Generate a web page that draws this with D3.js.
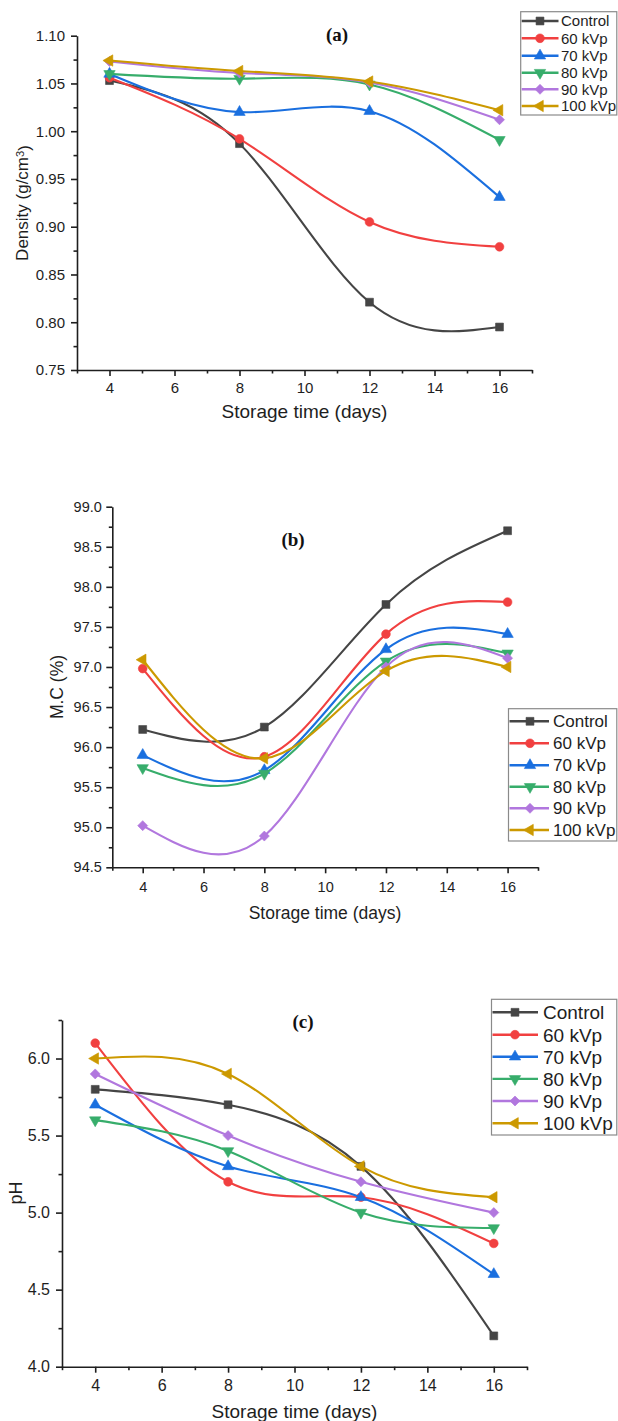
<!DOCTYPE html>
<html>
<head>
<meta charset="utf-8">
<script src="https://cdn.jsdelivr.net/npm/d3@7"></script>
<style>
  html, body { margin: 0; padding: 0; background: #fff; }
  svg { display: block; }
</style>
</head>
<body>
<svg id="chart" width="618" height="1421"></svg>
<script>
// Storage time (days) at which each sample was measured
const days = [4, 8, 12, 16];
const seriesNames = ["Control", "60 kVp", "70 kVp", "80 kVp", "90 kVp", "100 kVp"];
const seriesColors = ["#454545", "#F14040", "#1A6FDF", "#37AD6B", "#B177DE", "#CC9900"];

// (a) Density, g/cm3 — one row per series, one value per day
const densityValues = [
  [1.053, 0.987, 0.821, 0.795],
  [1.056, 0.992, 0.905, 0.879],
  [1.060, 1.020, 1.021, 0.931],
  [1.060, 1.055, 1.049, 0.991],
  [1.073, 1.061, 1.051, 1.012],
  [1.074, 1.063, 1.052, 1.022]
];

// (b) Moisture content, %
const moistureValues = [
  [96.22, 96.25, 97.78, 98.70],
  [96.98, 95.88, 97.41, 97.81],
  [95.90, 95.71, 97.22, 97.41],
  [95.74, 95.67, 97.07, 97.17],
  [95.02, 94.89, 97.00, 97.11],
  [97.09, 95.86, 96.95, 97.00]
];

// (c) pH
const phValues = [
  [5.8, 5.7, 5.3, 4.2],
  [6.1, 5.2, 5.1, 4.8],
  [5.7, 5.3, 5.1, 4.6],
  [5.6, 5.4, 5.0, 4.9],
  [5.9, 5.5, 5.2, 5.0],
  [6.0, 5.9, 5.3, 5.1]
];

// Tick labels
const dayTicks = [4, 6, 8, 10, 12, 14, 16];
const dayMinorTicks = [3, 5, 7, 9, 11, 13, 15, 17];
const densityTicks = [0.75, 0.80, 0.85, 0.90, 0.95, 1.00, 1.05, 1.10];
const densityMinorTicks = [0.775, 0.825, 0.875, 0.925, 0.975, 1.025, 1.075];
const moistureTicks = [94.5, 95.0, 95.5, 96.0, 96.5, 97.0, 97.5, 98.0, 98.5, 99.0];
const moistureMinorTicks = [94.75, 95.25, 95.75, 96.25, 96.75, 97.25, 97.75, 98.25, 98.75];
const phTicks = [4.0, 4.5, 5.0, 5.5, 6.0];
const phMinorTicks = [4.25, 4.75, 5.25, 5.75, 6.25];

const SANS = "'Liberation Sans', Arial, Helvetica, sans-serif";
const SERIF = "'Liberation Serif', 'Times New Roman', serif";
const INK = "#1e1e1e";

// Marker shapes: square, circle, up/down triangles, diamond, left triangle
const markers = [
  { type: d3.symbolSquare,   size: 62, rotate: 0 },
  { type: d3.symbolCircle,   size: 60, rotate: 0 },
  { type: d3.symbolTriangle, size: 56, rotate: 0 },
  { type: d3.symbolTriangle, size: 56, rotate: 180 },
  { type: d3.symbolSquare,   size: 50, rotate: 45 },
  { type: d3.symbolTriangle, size: 56, rotate: -90 }
];

const panels = [
  {
    values: densityValues, label: "(a)",
    yDomain: [0.75, 1.10], yTicks: densityTicks, yMinor: densityMinorTicks, yFormat: d3.format(".2f"),
    xRange: [77, 532], yRange: [370, 35.7],
    tickFont: 15, yPad: 6, xLabelY: 23,
    xTitle: { x: 304.5, y: 418, size: 19 },
    yTitle: { x: 22, y: 203, size: 17, sup: true, text: "Density (g/cm" },
    title: { x: 337, y: 41 },
    legend: { x0: 520.7, y0: 11.7, x1: 616.8, y1: 115, rows: [21, 38.3, 55.7, 72.7, 89.3, 106], lineEnd: 558.5, mark: 540, textX: 561, size: 15 }
  },
  {
    values: moistureValues, label: "(b)",
    yDomain: [94.5, 99.0], yTicks: moistureTicks, yMinor: moistureMinorTicks, yFormat: d3.format(".1f"),
    xRange: [112.3, 538], yRange: [867.3, 506.7],
    tickFont: 14.5, yPad: 4.5, xLabelY: 25,
    xTitle: { x: 325, y: 919, size: 17.5 },
    yTitle: { x: 57, y: 687, size: 17.5, sup: false, text: "M.C (%)" },
    title: { x: 293, y: 546 },
    legend: { x0: 508.5, y0: 708.7, x1: 616.8, y1: 841, rows: [721.3, 743.3, 765.3, 786.8, 808.3, 830], lineEnd: 549, mark: 530, textX: 553, size: 17 }
  },
  {
    values: phValues, label: "(c)",
    yDomain: [4.0, 6.25], yTicks: phTicks, yMinor: phMinorTicks, yFormat: d3.format(".1f"),
    xRange: [62, 527], yRange: [1366.7, 1020],
    tickFont: 16, yPad: 6, xLabelY: 24.5,
    xTitle: { x: 294.5, y: 1418, size: 19 },
    yTitle: { x: 16, y: 1193, size: 18, sup: false, text: "pH" },
    title: { x: 303, y: 1028 },
    legend: { x0: 491.5, y0: 999.3, x1: 616.8, y1: 1135, rows: [1012.3, 1034.7, 1056.7, 1078.9, 1101, 1123.3], lineEnd: 538, mark: 515, textX: 543, size: 19 }
  }
];

const svg = d3.select("#chart");

function drawMarker(g, i, cx, cy) {
  const m = markers[i];
  g.append("path")
    .attr("d", d3.symbol().type(m.type).size(m.size)())
    .attr("transform", `translate(${cx},${cy}) rotate(${m.rotate})`)
    .attr("fill", seriesColors[i])
    .attr("stroke", seriesColors[i])
    .attr("stroke-width", 0.6);
}

panels.forEach(p => {
  const g = svg.append("g");
  const x = d3.scaleLinear().domain([3, 17]).range(p.xRange);
  const y = d3.scaleLinear().domain(p.yDomain).range(p.yRange);
  const x0 = p.xRange[0], yBase = p.yRange[0];

  // Bottom axis: labelled majors and short minors
  const xAxis = g.append("g").attr("transform", `translate(0,${yBase})`)
    .call(d3.axisBottom(x).tickValues(dayTicks).tickSize(6).tickSizeOuter(0));
  xAxis.selectAll("text")
    .attr("y", p.xLabelY).attr("dy", null)
    .style("font", `${p.tickFont}px ${SANS}`).attr("fill", INK);
  g.append("g").attr("transform", `translate(0,${yBase})`)
    .call(d3.axisBottom(x).tickValues(dayMinorTicks).tickSize(3.5).tickFormat(""))
    .call(s => s.select(".domain").remove());

  // Left axis
  const yAxis = g.append("g").attr("transform", `translate(${x0},0)`)
    .call(d3.axisLeft(y).tickValues(p.yTicks).tickFormat(p.yFormat).tickSize(6).tickSizeOuter(0).tickPadding(p.yPad));
  yAxis.selectAll("text")
    .style("font", `${p.tickFont}px ${SANS}`).attr("fill", INK);
  g.append("g").attr("transform", `translate(${x0},0)`)
    .call(d3.axisLeft(y).tickValues(p.yMinor).tickSize(3.5).tickFormat(""))
    .call(s => s.select(".domain").remove());

  g.selectAll(".domain, .tick line").attr("stroke", INK).attr("stroke-width", 1.6);

  // Axis titles
  g.append("text")
    .attr("x", p.xTitle.x).attr("y", p.xTitle.y)
    .attr("text-anchor", "middle").attr("fill", INK)
    .style("font", `${p.xTitle.size}px ${SANS}`)
    .text("Storage time (days)");

  const yt = g.append("text")
    .attr("transform", `translate(${p.yTitle.x},${p.yTitle.y}) rotate(-90)`)
    .attr("text-anchor", "middle").attr("dy", "0.35em").attr("fill", INK)
    .style("font", `${p.yTitle.size}px ${SANS}`);
  yt.append("tspan").text(p.yTitle.text);
  if (p.yTitle.sup) {
    yt.append("tspan").attr("dy", "-0.4em").style("font-size", `${p.yTitle.size * 0.65}px`).text("3");
    yt.append("tspan").attr("dy", "0.4em").text(")");
  }

  // Panel letter
  g.append("text")
    .attr("x", p.title.x).attr("y", p.title.y)
    .attr("text-anchor", "middle").attr("fill", "#111")
    .style("font", `bold 19px ${SERIF}`)
    .text(p.label);

  // Smoothed series lines and their markers
  const line = d3.line()
    .x(d => x(d[0])).y(d => y(d[1]))
    .curve(d3.curveNatural);

  p.values.forEach((vals, i) => {
    const pts = days.map((d, k) => [d, vals[k]]);
    g.append("path")
      .attr("d", line(pts))
      .attr("fill", "none")
      .attr("stroke", seriesColors[i])
      .attr("stroke-width", 2.1);
    pts.forEach(pt => drawMarker(g, i, x(pt[0]), y(pt[1])));
  });

  // Legend
  const L = p.legend;
  const lg = g.append("g");
  lg.append("rect")
    .attr("x", L.x0).attr("y", L.y0)
    .attr("width", L.x1 - L.x0).attr("height", L.y1 - L.y0)
    .attr("fill", "#fff").attr("stroke", "#8a8a8a").attr("stroke-width", 1.2);
  seriesNames.forEach((name, i) => {
    const ry = L.rows[i];
    lg.append("line")
      .attr("x1", L.x0 + 1).attr("x2", L.lineEnd)
      .attr("y1", ry).attr("y2", ry)
      .attr("stroke", seriesColors[i]).attr("stroke-width", 2.4);
    drawMarker(lg, i, L.mark, ry);
    lg.append("text")
      .attr("x", L.textX).attr("y", ry).attr("dy", "0.36em")
      .attr("fill", INK)
      .style("font", `${L.size}px ${SANS}`)
      .text(name);
  });
});
</script>
</body>
</html>
